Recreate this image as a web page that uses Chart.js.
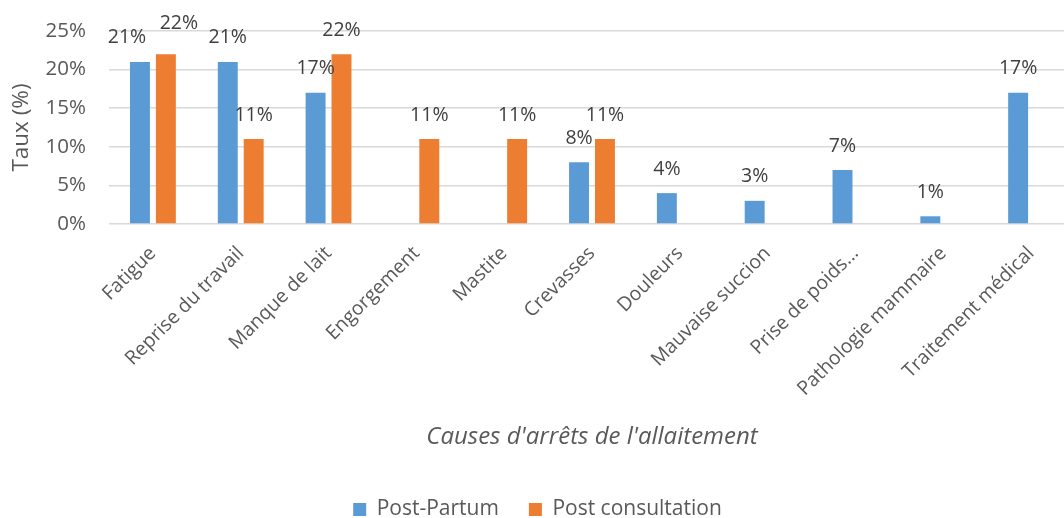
<!DOCTYPE html>
<html>
<head>
<meta charset="utf-8">
<script src="https://cdn.jsdelivr.net/npm/chart.js@4"></script>
<style>
  html, body { margin: 0; padding: 0; background: #fff; overflow: hidden; }
  #wrap { width: 1082px; height: 530px; }
</style>
</head>
<body>
<div id="wrap"><canvas id="causesChart"></canvas></div>
<script>
const categories = [
  "Fatigue", "Reprise du travail", "Manque de lait", "Engorgement", "Mastite",
  "Crevasses", "Douleurs", "Mauvaise succion", "Prise de poids...",
  "Pathologie mammaire", "Traitement médical",
];
const postPartum = [21, 21, 17, null, null, 8, 4, 3, 7, 1, 17];
const postConsultation = [22, 11, 22, 11, 11, 11, null, null, null, null, null];
const yTicks = [0, 5, 10, 15, 20, 25];

const textColor = "#595959";
const fontFamily = "'Open Sans', 'Noto Sans', sans-serif";

// a couple of labels were moved apart by hand in the original
const labelNudge = {
  "0:0": { dx: -13, dy: 0 },
  "1:0": { dx: 13, dy: -7 },
};

const valueLabels = {
  id: "valueLabels",
  afterDatasetsDraw(chart) {
    const ctx = chart.ctx;
    ctx.save();
    ctx.font = `19.5px ${fontFamily}`;
    ctx.fillStyle = "#404040";
    ctx.textAlign = "center";
    ctx.textBaseline = "middle";
    chart.data.datasets.forEach((ds, di) => {
      const meta = chart.getDatasetMeta(di);
      meta.data.forEach((bar, i) => {
        const v = ds.data[i];
        if (v === null || v === undefined) return;
        const n = labelNudge[`${di}:${i}`] || { dx: 0, dy: 0 };
        ctx.fillText(`${v}%`, bar.x + n.dx, bar.y - 24 + n.dy);
      });
    });
    ctx.restore();
  },
};

new Chart(document.getElementById("causesChart"), {
  type: "bar",
  data: {
    labels: categories,
    datasets: [
      {
        label: "Post-Partum",
        data: postPartum,
        backgroundColor: "#5B9BD5",
        categoryPercentage: 0.59,
        barPercentage: 0.77,
      },
      {
        label: "Post consultation",
        data: postConsultation,
        backgroundColor: "#ED7D31",
        categoryPercentage: 0.59,
        barPercentage: 0.77,
      },
    ],
  },
  options: {
    responsive: true,
    maintainAspectRatio: false,
    animation: false,
    layout: { padding: { top: 31, right: 7, left: 0, bottom: 0 } },
    plugins: {
      tooltip: { enabled: false },
      legend: {
        position: "bottom",
        labels: {
          color: textColor,
          font: { family: fontFamily, size: 21 },
          boxWidth: 13,
          boxHeight: 13,
          padding: 30,
        },
      },
    },
    scales: {
      x: {
        grid: { display: false },
        border: { display: false },
        ticks: {
          color: textColor,
          font: { family: fontFamily, size: 19.5 },
          maxRotation: 45,
          minRotation: 45,
          padding: 10,
        },
        title: {
          display: true,
          text: "Causes d'arrêts de l'allaitement",
          color: textColor,
          font: { family: fontFamily, size: 24, style: "italic" },
          padding: { top: 0, bottom: 17 },
        },
        afterFit(scale) {
          scale.height = 245;
        },
      },
      y: {
        min: 0,
        max: 25,
        afterBuildTicks(scale) {
          scale.ticks = yTicks.map((v) => ({ value: v }));
        },
        grid: { color: "#d9d9d9", lineWidth: 1.5, drawTicks: false },
        border: { display: false },
        ticks: {
          color: textColor,
          font: { family: fontFamily, size: 20.5 },
          padding: 23,
          callback: (v) => `${v}%`,
        },
        title: {
          display: true,
          text: "Taux (%)",
          color: textColor,
          font: { family: fontFamily, size: 22.5 },
          padding: { top: 8, bottom: 0 },
        },
        afterFit(scale) {
          scale.width = 109;
          scale.paddingTop = 0;
          scale.paddingBottom = 0;
        },
      },
    },
  },
  plugins: [valueLabels],
});
</script>
</body>
</html>
